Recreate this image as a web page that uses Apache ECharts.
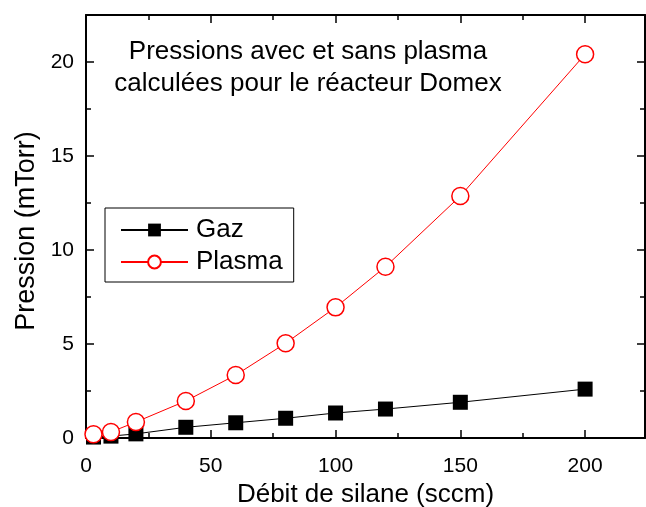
<!DOCTYPE html>
<html><head><meta charset="utf-8">
<script src="https://cdn.jsdelivr.net/npm/echarts@6/dist/echarts.min.js"></script>
<style>html,body{margin:0;padding:0;background:#fff}#c{width:646px;height:507px}</style>
</head><body><div id="c"></div>
<script>
var gazX = [3, 10, 20, 40, 60, 80, 100, 120, 150, 200];
var gazY = [0.05, 0.1, 0.22, 0.57, 0.81, 1.05, 1.33, 1.54, 1.9, 2.6];
var plasmaX = [3, 10, 20, 40, 60, 80, 100, 120, 150, 200];
var plasmaY = [0.2, 0.32, 0.85, 1.97, 3.35, 5.04, 6.95, 9.11, 12.87, 20.41];
var xTicks = [0, 50, 100, 150, 200];
var yTicks = [0, 5, 10, 15, 20];
var titleLines = ['Pressions avec et sans plasma', 'calculées pour le réacteur Domex'];
var xName = 'Débit de silane (sccm)';
var yName = 'Pression (mTorr)';

var FONT = 'Liberation Sans';
function pairs(xs, ys){ return xs.map(function(x,i){return [x, ys[i]];}); }
var axisCommon = {
  axisLine:{show:true, onZero:false, lineStyle:{color:'#000', width:2}},
  axisTick:{show:true, inside:true, length:8, lineStyle:{color:'#000', width:1.5}},
  minorTick:{show:true, splitNumber:2, length:5, lineStyle:{color:'#000', width:1.5}},
  splitLine:{show:false}
};
var chart = echarts.init(document.getElementById('c'));
chart.setOption({
  animation:false,
  backgroundColor:'#fff',
  title:{
    text: titleLines.join('\n'),
    left: 303, top: 31, textAlign:'center',
    textStyle:{fontFamily:FONT, fontSize:26, fontWeight:'normal', color:'#000', lineHeight:32}
  },
  graphic:[{
    type:'text', x:27, y:231, rotation:Math.PI/2,
    style:{text:yName, fontFamily:FONT, fontSize:27, fill:'#000', align:'center', verticalAlign:'middle'}
  }],
  legend:{
    orient:'vertical', left:105, top:208,
    padding:[9, 11, 7, 15],
    borderColor:'#000', borderWidth:1,
    itemWidth:67, itemHeight:16, itemGap:6,
    textStyle:{fontFamily:FONT, fontSize:26, color:'#000', lineHeight:24, padding:[0,0,0,3]},
    data:['Gaz','Plasma']
  },
  grid:{left:86, right:1, top:15, bottom:69, containLabel:false, outerBoundsMode:'none'},
  xAxis:[
    Object.assign({type:'value', min:0, max:224, interval:50, position:'bottom',
      name:xName, nameLocation:'middle', nameGap:44,
      nameTextStyle:{fontFamily:FONT, fontSize:26, color:'#000'},
      axisLabel:{fontFamily:FONT, fontSize:21, color:'#000', margin:18,
        formatter:function(v){return xTicks.indexOf(v)>=0 ? String(v) : '';}}}, axisCommon),
    Object.assign({type:'value', min:0, max:224, interval:50, position:'top',
      axisLabel:{show:false}}, axisCommon)
  ],
  yAxis:[
    Object.assign({type:'value', min:0, max:22.5, interval:5, position:'left',
      axisLabel:{fontFamily:FONT, fontSize:21, color:'#000', margin:12,
        formatter:function(v){return yTicks.indexOf(v)>=0 ? String(v) : '';}}}, axisCommon),
    Object.assign({type:'value', min:0, max:22.5, interval:5, position:'right',
      axisLabel:{show:false}}, axisCommon)
  ],
  series:[
    {name:'Gaz', type:'line', data:pairs(gazX, gazY), clip:true,
      symbol:'rect', symbolSize:15, showAllSymbol:true,
      itemStyle:{color:'#000', borderColor:'#000', borderWidth:0},
      lineStyle:{color:'#000', width:1}, z:2},
    {name:'Plasma', type:'line', data:pairs(plasmaX, plasmaY), clip:true,
      symbol:'circle', symbolSize:17, showAllSymbol:true,
      itemStyle:{color:'#fff', borderColor:'#ff0000', borderWidth:1.5},
      lineStyle:{color:'#ff0000', width:1}, z:3}
  ]
});
</script></body></html>
